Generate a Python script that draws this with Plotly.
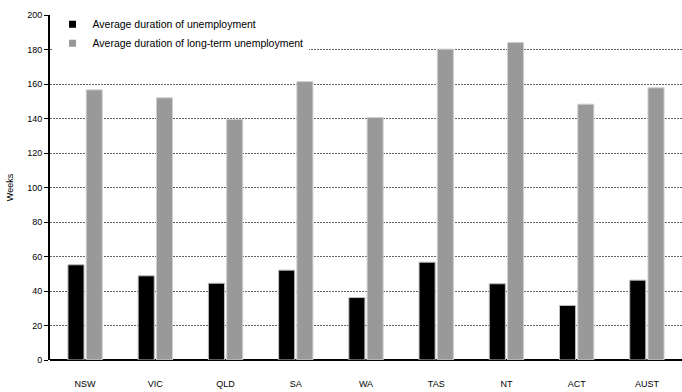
import plotly.graph_objects as go

states = ["NSW", "VIC", "QLD", "SA", "WA", "TAS", "NT", "ACT", "AUST"]
avg_unemp = [55.2, 48.8, 44.5, 52.1, 36.2, 56.7, 44.2, 31.6, 46.3]
avg_long_term = [156.6, 152.0, 139.5, 161.4, 140.6, 180.2, 184.1, 148.3, 157.8]

series = [
    ("Average duration of unemployment", avg_unemp, "#000000", "#bdbdbd"),
    ("Average duration of long-term unemployment", avg_long_term, "#999999", "#d0d0d0"),
]

fig = go.Figure()
for name, vals, fill, edge in series:
    fig.add_trace(go.Bar(
        x=states, y=vals, name=name, showlegend=False,
        marker=dict(color=fill, line=dict(color=edge, width=1)),
    ))
# small square swatches for the legend
for name, vals, fill, edge in series:
    fig.add_trace(go.Scatter(
        x=[None], y=[None], mode="markers", name=name,
        marker=dict(symbol="square", size=7, color=fill),
    ))

fig.update_layout(
    width=682, height=392,
    margin=dict(l=50, r=0, t=15, b=32),
    paper_bgcolor="white", plot_bgcolor="white",
    barmode="group", bargap=0.48, bargroupgap=0.12,
    font=dict(family="Liberation Sans, Arial, sans-serif", size=9, color="#000"),
    showlegend=True,
    legend=dict(
        x=0.004, y=1.015, xanchor="left", yanchor="top",
        bgcolor="white", font=dict(size=10.5),
        itemwidth=30, tracegroupgap=0,
    ),
    xaxis=dict(
        showline=False, showgrid=False, ticks="outside", ticklen=0,
        ticklabelstandoff=15, tickfont=dict(size=9),
    ),
    yaxis=dict(
        range=[0, 200], dtick=20, showline=True, linecolor="black", linewidth=2,
        ticks="outside", ticklen=4, tickcolor="black",
        showgrid=True, gridcolor="#666666", griddash="2px,1px", gridwidth=1,
        zeroline=True, zerolinecolor="black", zerolinewidth=2,
        title=dict(text="Weeks", font=dict(size=9), standoff=12),
        tickfont=dict(size=9),
    ),
)

fig.write_html("out.html")
